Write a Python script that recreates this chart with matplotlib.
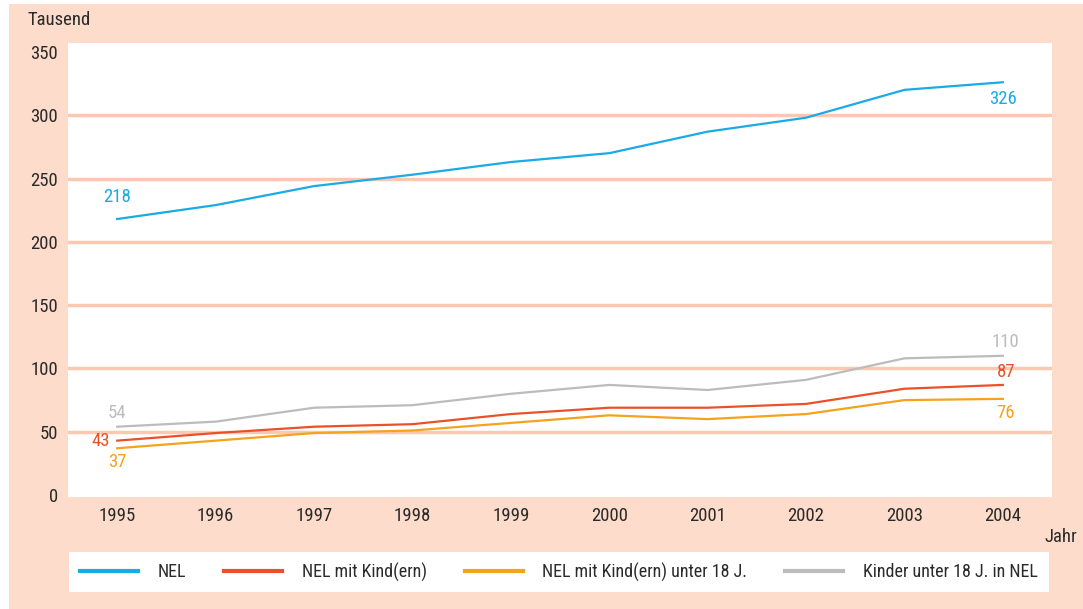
import matplotlib.pyplot as plt
from matplotlib.patches import Rectangle
from matplotlib import font_manager

# Daten (Tausend)
jahre = [1995, 1996, 1997, 1998, 1999, 2000, 2001, 2002, 2003, 2004]
nel = [218, 229, 244, 253, 263, 270, 287, 298, 320, 326]
nel_kind = [43, 49, 54, 56, 64, 69, 69, 72, 84, 87]
nel_kind_u18 = [37, 43, 49, 51, 57, 63, 60, 64, 75, 76]
kinder_u18 = [54, 58, 69, 71, 80, 87, 83, 91, 108, 110]

serien = ['NEL', 'NEL mit Kind(ern)', 'NEL mit Kind(ern) unter 18 J.', 'Kinder unter 18 J. in NEL']
farben = ['#1aabe6', '#ea5128', '#f5a21d', '#bcbcbc']
y_ticks = [0, 50, 100, 150, 200, 250, 300, 350]

verfuegbar = {f.name for f in font_manager.fontManager.ttflist}
schrift = 'DejaVu Sans'
for kandidat in ['Liberation Sans Narrow', 'DejaVu Sans Condensed', 'Roboto Condensed', 'Roboto']:
    if kandidat in verfuegbar:
        schrift = kandidat
        break
plt.rcParams['font.family'] = [schrift, 'DejaVu Sans']

peach = '#fddccb'
text_col = '#2a2a2a'
fs = 13.5

fig = plt.figure(figsize=(10.83, 6.09), dpi=100, facecolor='white')
fig.patches.append(Rectangle((9 / 1083, 0), 1, 1 - 4 / 609, transform=fig.transFigure,
                             facecolor=peach, edgecolor='none', zorder=-10))

ax = fig.add_axes([68 / 1083, 1 - 497 / 609, (1052 - 68) / 1083, (497 - 43) / 609])
ax.set_facecolor('white')

for werte, name, farbe in zip([nel, nel_kind, nel_kind_u18, kinder_u18], serien, farben):
    ax.plot(jahre, werte, color=farbe, lw=1.6, label=name, zorder=3)

ax.set_xlim(1994.5, 2004.5)
ax.set_ylim(-1.5, 357)
ax.set_yticks(y_ticks)
ax.set_xticks(jahre)
ax.tick_params(length=0, labelsize=fs, colors=text_col, pad=7)
for y in y_ticks[1:-1]:
    ax.axhline(y, color='#fcc9b0', lw=2.5, zorder=1)
for s in ax.spines.values():
    s.set_visible(False)

# Werte an Anfang und Ende
ax.text(1995, nel[0] + 10, str(nel[0]), color=farben[0], fontsize=fs, ha='center', va='bottom')
ax.text(2004, nel[-1] - 6, str(nel[-1]), color=farben[0], fontsize=fs, ha='center', va='top')
ax.text(1995, kinder_u18[0] + 4, str(kinder_u18[0]), color=farben[3], fontsize=fs, ha='center', va='bottom')
ax.text(1994.83, nel_kind[0], str(nel_kind[0]), color=farben[1], fontsize=fs, ha='center', va='center')
ax.text(1995, nel_kind_u18[0] - 4, str(nel_kind_u18[0]), color=farben[2], fontsize=fs, ha='center', va='top')
ax.text(2004.03, kinder_u18[-1] + 4, str(kinder_u18[-1]), color=farben[3], fontsize=fs, ha='center', va='bottom')
ax.text(2004.03, nel_kind[-1] + 3, str(nel_kind[-1]), color=farben[1], fontsize=fs, ha='center', va='bottom')
ax.text(2004.03, nel_kind_u18[-1] - 4, str(nel_kind_u18[-1]), color=farben[2], fontsize=fs, ha='center', va='top')

fig.text(27 / 1083, 1 - 20 / 609, 'Tausend', fontsize=fs, color=text_col, ha='left', va='center')
fig.text(1077 / 1083, 1 - 537 / 609, 'Jahr', fontsize=fs, color=text_col, ha='right', va='center')

leg = fig.legend(loc='center', bbox_to_anchor=((68 + 1050) / 2 / 1083, 1 - 572 / 609),
                 ncol=4, frameon=True, fontsize=13, handlelength=3.2, handletextpad=1.1,
                 columnspacing=2.1, borderpad=0.6, fancybox=False, framealpha=1,
                 edgecolor='white', facecolor='white')
leg.get_frame().set_linewidth(0)
for t in leg.get_texts():
    t.set_color(text_col)
for l in leg.get_lines():
    l.set_linewidth(3)

fig.savefig('out.png', dpi=100, facecolor=fig.get_facecolor())
